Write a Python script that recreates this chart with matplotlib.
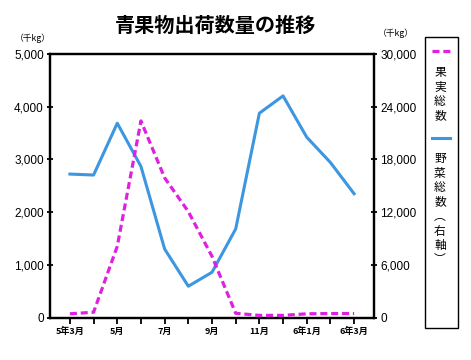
import matplotlib.pyplot as plt
from matplotlib.lines import Line2D
from matplotlib.patches import Rectangle

plt.rcParams['font.family'] = ['Liberation Sans', 'Noto Sans CJK JP', 'DejaVu Sans']

months = ['5年3月', '4月', '5月', '6月', '7月', '8月', '9月', '10月',
          '11月', '12月', '6年1月', '2月', '6年3月']
fruit = [70, 100, 1350, 3730, 2650, 2010, 1160, 80, 40, 40, 70, 75, 75]
veg = [16330, 16220, 22120, 17200, 7800, 3560, 5150, 10080, 23260, 25230,
       20530, 17650, 14090]

fig = plt.figure(figsize=(4.71, 3.6), dpi=100)
ax = fig.add_axes([50/471, 1-317.5/360, 324/471, 263.5/360])
ax2 = ax.twinx()

x = list(range(len(months)))
ax.plot(x, fruit, color='#e020e0', lw=2.3, dashes=(2.2, 1.2), zorder=3)
ax2.plot(x, veg, color='#3c96e0', lw=2.2, zorder=2)
ax.set_zorder(ax2.get_zorder() + 1)
ax.patch.set_visible(False)

ax.set_xlim(-0.84, len(months) - 1 + 0.84)
ax.set_ylim(0, 5000)
ax2.set_ylim(0, 30000)
ax.set_yticks(range(0, 5001, 1000))
ax2.set_yticks(range(0, 30001, 6000))
ax.set_yticklabels([f'{v:,}' for v in range(0, 5001, 1000)], fontsize=8.5)
ax2.set_yticklabels([f'{v:,}' for v in range(0, 30001, 6000)], fontsize=8.5)

ax.set_xticks(x)
ax.set_xticklabels([m if i % 2 == 0 else '' for i, m in enumerate(months)],
                   fontsize=6.5, fontweight='bold', family=['Noto Sans CJK JP'])

for a in (ax, ax2):
    for s in a.spines.values():
        s.set_linewidth(1.6)
ax.tick_params(axis='y', direction='inout', length=5, width=1.3, pad=2)
ax2.tick_params(axis='y', direction='inout', length=5, width=1.3, pad=2)
ax.tick_params(axis='x', direction='out', length=4, width=1.3, pad=3)

fig.text(215/471, 1-25/360, '青果物出荷数量の推移', ha='center', va='center',
         fontsize=14.5, fontweight='bold', family=['Noto Sans CJK JP'])
fig.text(33/471, 1-38/360, '（千kg）', ha='center', va='center', fontsize=6.3,
         family=['Noto Sans CJK JP'])
fig.text(396/471, 1-33/360, '（千kg）', ha='center', va='center', fontsize=6.3,
         family=['Noto Sans CJK JP'])

# legend box
fig.patches.append(Rectangle((425/471, 1-328/360), 33/471, 291/360,
                             transform=fig.transFigure, fill=False,
                             edgecolor='black', lw=1.0))
fig.lines.append(Line2D([432/471, 450/471], [1-50.5/360, 1-50.5/360],
                        transform=fig.transFigure, color='#e020e0', lw=2.3,
                        dashes=(2.2, 1.2)))
fig.lines.append(Line2D([432/471, 450/471], [1-138/360, 1-138/360],
                        transform=fig.transFigure, color='#3c96e0', lw=2.2))
fig.text(440/471, 1-66/360, '果\n実\n総\n数', ha='center', va='top',
         fontsize=8.5, linespacing=1.15, family=['Noto Sans CJK JP'])
fig.text(440/471, 1-152/360, '野\n菜\n総\n数\n︵\n右\n軸\n︶', ha='center',
         va='top', fontsize=8.5, linespacing=1.15,
         family=['Noto Sans CJK JP'])

fig.savefig('out.png', dpi=100)
